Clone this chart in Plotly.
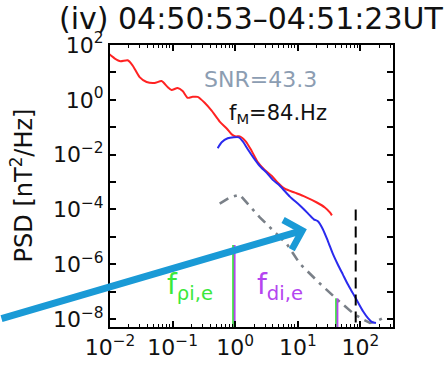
import plotly.graph_objects as go

# ---------------- data ----------------
red_f = [0.0098, 0.0118, 0.0147, 0.0191, 0.0229, 0.0297, 0.0384, 0.0515, 0.0667, 0.0832,
         0.0964, 0.120, 0.1445, 0.174, 0.209, 0.251, 0.325, 0.42, 0.565, 0.731,
         0.879, 1.02, 1.18, 1.47, 1.84, 2.29, 2.96, 3.84, 4.79, 6.19,
         8.95, 12.9, 20.1, 27.0, 32.5, 35.0]
red_psd = [45.5, 32.7, 25.4, 27.6, 18.2, 6.74, 4.46, 4.10, 4.84, 2.94,
           2.29, 2.70, 2.11, 1.18, 1.28, 1.28, 0.78, 0.402, 0.161, 0.090,
           0.0548, 0.0464, 0.0464, 0.0306, 0.0134, 0.00537, 0.00276, 0.00168, 0.00094, 0.000571,
           0.00041, 0.000294, 0.000179, 0.000118, 0.000078, 0.0000608]

blue_f = [0.525, 0.608, 0.759, 0.946, 1.14, 1.32, 1.585, 1.98, 2.47, 3.19,
          3.98, 5.15, 7.45, 10.8, 14.5, 18.0, 20.9, 25.1, 30.2, 36.3,
          43.7, 52.5, 63.1, 75.9, 91.2, 110, 132, 153, 177]
blue_psd = [0.0171, 0.0282, 0.0394, 0.0428, 0.0428, 0.0306, 0.0158, 0.00748, 0.00385, 0.00215,
            0.00120, 0.000733, 0.000294, 0.000139, 0.0000718, 0.0000436, 0.0000370, 0.0000190, 7.03e-6, 2.39e-6,
            9.6e-7, 4.19e-7, 1.82e-7, 8.65e-8, 4.1e-8, 1.94e-8, 1.09e-8, 7.8e-9, 7.2e-9]

noise_f = [0.565, 0.817, 1.18, 1.585, 2.47, 3.56, 6.67, 10.8, 22.5, 42.1, 75.9, 106, 142, 184, 247]
noise_psd = [1.64e-4, 2.70e-4, 3.47e-4, 1.64e-4, 5.15e-5, 2.25e-5, 5.48e-6, 1.04e-6, 1.98e-7, 5.26e-8,
             1.64e-8, 1.0e-8, 7.2e-9, 8.5e-9, 1.18e-8]

f_rho_ie = [0.93, 41.0]      # Hz, green markers
f_di_e = [0.98, 43.0]        # Hz, purple markers
marker_top = [5.05e-6, 5.7e-8]
f_M = 84.0
f_M_top = 1.0e-4
snr = 43.3
psd_floor = 10 ** -8.29

x_tick_vals = [1e-2, 1e-1, 1e0, 1e1, 1e2]
x_tick_text = ["10<sup>−2</sup>", "10<sup>−1</sup>", "10<sup>0</sup>", "10<sup>1</sup>", "10<sup>2</sup>"]
y_tick_vals = [10.0 ** k for k in range(-8, 3)]
y_tick_text = ["10<sup>−8</sup>", "", "10<sup>−6</sup>", "", "10<sup>−4</sup>", "",
               "10<sup>−2</sup>", "", "10<sup>0</sup>", "", "10<sup>2</sup>"]
x_minor_vals = [m * 10.0 ** e for e in range(-2, 3) for m in range(2, 10) if m * 10.0 ** e < 330]

FONT = "DejaVu Sans"
GREEN = "#3be83b"
PURPLE = "#b445f0"

fig = go.Figure()

fig.add_trace(go.Scatter(x=noise_f, y=noise_psd, mode="lines",
                         line=dict(color="#7a8088", width=2.6, dash="10px,6px,3px,6px"),
                         showlegend=False))
fig.add_trace(go.Scatter(x=red_f, y=red_psd, mode="lines",
                         line=dict(color="#ff2222", width=2, shape="spline", smoothing=0.6),
                         showlegend=False))
fig.add_trace(go.Scatter(x=blue_f, y=blue_psd, mode="lines",
                         line=dict(color="#2a2aee", width=2, shape="spline", smoothing=0.6),
                         showlegend=False))

for f, top in zip(f_rho_ie, marker_top):
    fig.add_trace(go.Scatter(x=[f, f], y=[top, psd_floor], mode="lines",
                             line=dict(color=GREEN, width=2.2), showlegend=False))
for f, top in zip(f_di_e, marker_top):
    fig.add_trace(go.Scatter(x=[f, f], y=[top, psd_floor], mode="lines",
                             line=dict(color=PURPLE, width=1.8), showlegend=False))

fig.add_trace(go.Scatter(x=[f_M, f_M], y=[f_M_top, psd_floor], mode="lines",
                         line=dict(color="black", width=2, dash="11px,6px"), showlegend=False))

annotations = [
    dict(text="(iv) 04:50:53–04:51:23UT", xref="paper", yref="paper",
         x=-0.187, y=1.095, xanchor="left", yanchor="middle", showarrow=False,
         font=dict(family=FONT, size=30, color="#111111")),
    dict(text="PSD [nT<sup>2</sup>/Hz]", xref="paper", yref="paper",
         x=-0.311, y=0.502, xanchor="center", yanchor="middle", textangle=-90,
         showarrow=False, font=dict(family=FONT, size=24, color="#111111")),
    dict(text=f"SNR={snr}", xref="x", yref="y", x=0.408, y=0.757,
         xanchor="center", yanchor="middle", showarrow=False,
         font=dict(family=FONT, size=22, color="#8c9db2")),
    dict(text="f<sub>M</sub>=84.Hz", xref="x", yref="y", x=0.68, y=-0.5,
         xanchor="center", yanchor="middle", showarrow=False,
         font=dict(family=FONT, size=21, color="#111111")),
    dict(text="f<sub>ρi,e</sub>", xref="x", yref="y", x=-1.128, y=-6.8,
         xanchor="left", yanchor="middle", showarrow=False,
         font=dict(family=FONT, size=28, color=GREEN)),
    dict(text="f<sub>di,e</sub>", xref="x", yref="y", x=0.312, y=-6.8,
         xanchor="left", yanchor="middle", showarrow=False,
         font=dict(family=FONT, size=28, color=PURPLE)),
    dict(text="", xref="x", yref="y", x=1.144, y=-4.72, ax=-307, ay=90,
         axref="pixel", ayref="pixel", showarrow=True, arrowhead=4,
         arrowsize=0.85, arrowwidth=7, arrowcolor="#1a9ad6"),
]

fig.update_layout(
    width=448, height=372, autosize=False,
    margin=dict(l=110, r=55, t=45, b=41, pad=0),
    paper_bgcolor="white", plot_bgcolor="white",
    annotations=annotations,
    showlegend=False,
    font=dict(family=FONT, size=22, color="#111111"),
)

fig.update_xaxes(type="log", range=[-2.0, 2.52], showgrid=False, zeroline=False,
                 showline=True, linecolor="black", linewidth=2, mirror="ticks",
                 ticks="inside", ticklen=6, tickwidth=1.5, tickcolor="black",
                 tickvals=x_tick_vals, ticktext=x_tick_text,
                 tickfont=dict(family=FONT, size=22, color="#111111"),
                 minor=dict(ticks="inside", ticklen=3, tickwidth=1.2, tickcolor="black",
                            tickvals=x_minor_vals, showgrid=False))
fig.update_yaxes(type="log", range=[-8.29, 2.0], showgrid=False, zeroline=False,
                 showline=True, linecolor="black", linewidth=2, mirror="ticks",
                 ticks="inside", ticklen=6, tickwidth=1.5, tickcolor="black",
                 tickvals=y_tick_vals, ticktext=y_tick_text,
                 tickfont=dict(family=FONT, size=22, color="#111111"))

fig.write_html("out.html")
